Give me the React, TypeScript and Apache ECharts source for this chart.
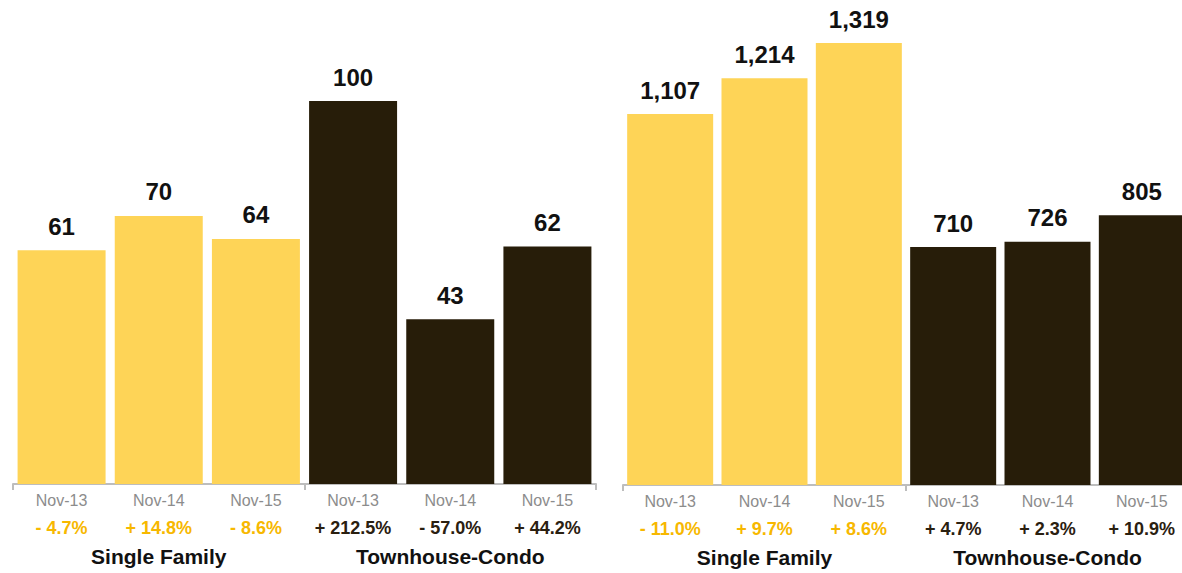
import React, { useEffect, useRef } from "react";
import * as echarts from "echarts";

const months = ["Nov-13", "Nov-14", "Nov-15", "Nov-13", "Nov-14", "Nov-15"];
const groups = ["Single Family", "Townhouse-Condo"];
const leftValues = [61, 70, 64, 100, 43, 62];
const leftChanges = ["- 4.7%", "+ 14.8%", "- 8.6%", "+ 212.5%", "- 57.0%", "+ 44.2%"];
const rightValues = [1107, 1214, 1319, 710, 726, 805];
const rightChanges = ["- 11.0%", "+ 9.7%", "+ 8.6%", "+ 4.7%", "+ 2.3%", "+ 10.9%"];

const YELLOW = "#FED457";
const DARK = "#271D09";
const YELLOW_TEXT = "#F7B800";
const DARK_TEXT = "#2A2010";
const FONT = "'Liberation Sans', Arial, Helvetica, sans-serif";

function makeAxes(gridIndex: number, changes: string[]) {
  const monthAxis = {
    type: "category",
    gridIndex,
    position: "bottom",
    offset: 0,
    data: months.map((_, i) => String(i)),
    axisLine: { show: false },
    axisTick: { show: false },
    axisLabel: {
      interval: 0,
      margin: 2,
      fontFamily: FONT,
      formatter: (_v: string, i: number) =>
        `{m|${months[i]}}\n{${i < 3 ? "py" : "pd"}|${changes[i]}}`,
      rich: {
        m: { fontSize: 16, color: "#8C8C8C", lineHeight: 28, fontFamily: FONT },
        py: { fontSize: 18, fontWeight: "bold", color: YELLOW_TEXT, lineHeight: 28, fontFamily: FONT },
        pd: { fontSize: 18, fontWeight: "bold", color: DARK_TEXT, lineHeight: 28, fontFamily: FONT },
      },
    },
  };
  const groupAxis = {
    type: "category",
    gridIndex,
    position: "bottom",
    offset: 0,
    data: groups,
    axisLine: { show: true, lineStyle: { color: "#BDBDBD", width: 2 } },
    axisTick: { show: true, length: 6, lineStyle: { color: "#BDBDBD", width: 2 } },
    axisLabel: {
      interval: 0,
      margin: 62,
      fontSize: 21,
      fontWeight: "bold",
      color: "#111111",
      fontFamily: FONT,
    },
  };
  return [monthAxis, groupAxis];
}

function makeSeries(idx: number, values: number[], barWidth: number) {
  return {
    type: "bar",
    xAxisIndex: idx * 2,
    yAxisIndex: idx,
    barWidth,
    data: values.map((v, i) => ({ value: v, itemStyle: { color: i < 3 ? YELLOW : DARK } })),
    label: {
      show: true,
      position: "top",
      distance: 12,
      fontSize: 24,
      fontWeight: "bold",
      color: "#111111",
      fontFamily: FONT,
      formatter: (p: any) => Number(p.value).toLocaleString("en-US"),
    },
  };
}

export default function App() {
  const ref = useRef<HTMLDivElement>(null);
  useEffect(() => {
    if (!ref.current) return;
    const chart = echarts.init(ref.current, undefined, { renderer: "svg" });
    chart.setOption({
      animation: false,
      backgroundColor: "#FFFFFF",
      textStyle: { fontFamily: FONT },
      grid: [
        { left: 13, top: 101, width: 583, height: 383 },
        { left: 623, top: 43, width: 566, height: 442 },
      ],
      xAxis: [...makeAxes(0, leftChanges), ...makeAxes(1, rightChanges)],
      yAxis: [
        { type: "value", gridIndex: 0, min: 0, max: 100, show: false, splitLine: { show: false } },
        { type: "value", gridIndex: 1, min: 0, max: 1319, show: false, splitLine: { show: false } },
      ],
      series: [makeSeries(0, leftValues, 88), makeSeries(1, rightValues, 86)],
    });
    return () => chart.dispose();
  }, []);
  return (
    <div
      style={{
        position: "fixed",
        left: 0,
        top: 0,
        width: 1182,
        height: 573,
        overflow: "hidden",
        background: "#FFFFFF",
      }}
    >
      <div ref={ref} style={{ width: 1210, height: 573 }} />
    </div>
  );
}
